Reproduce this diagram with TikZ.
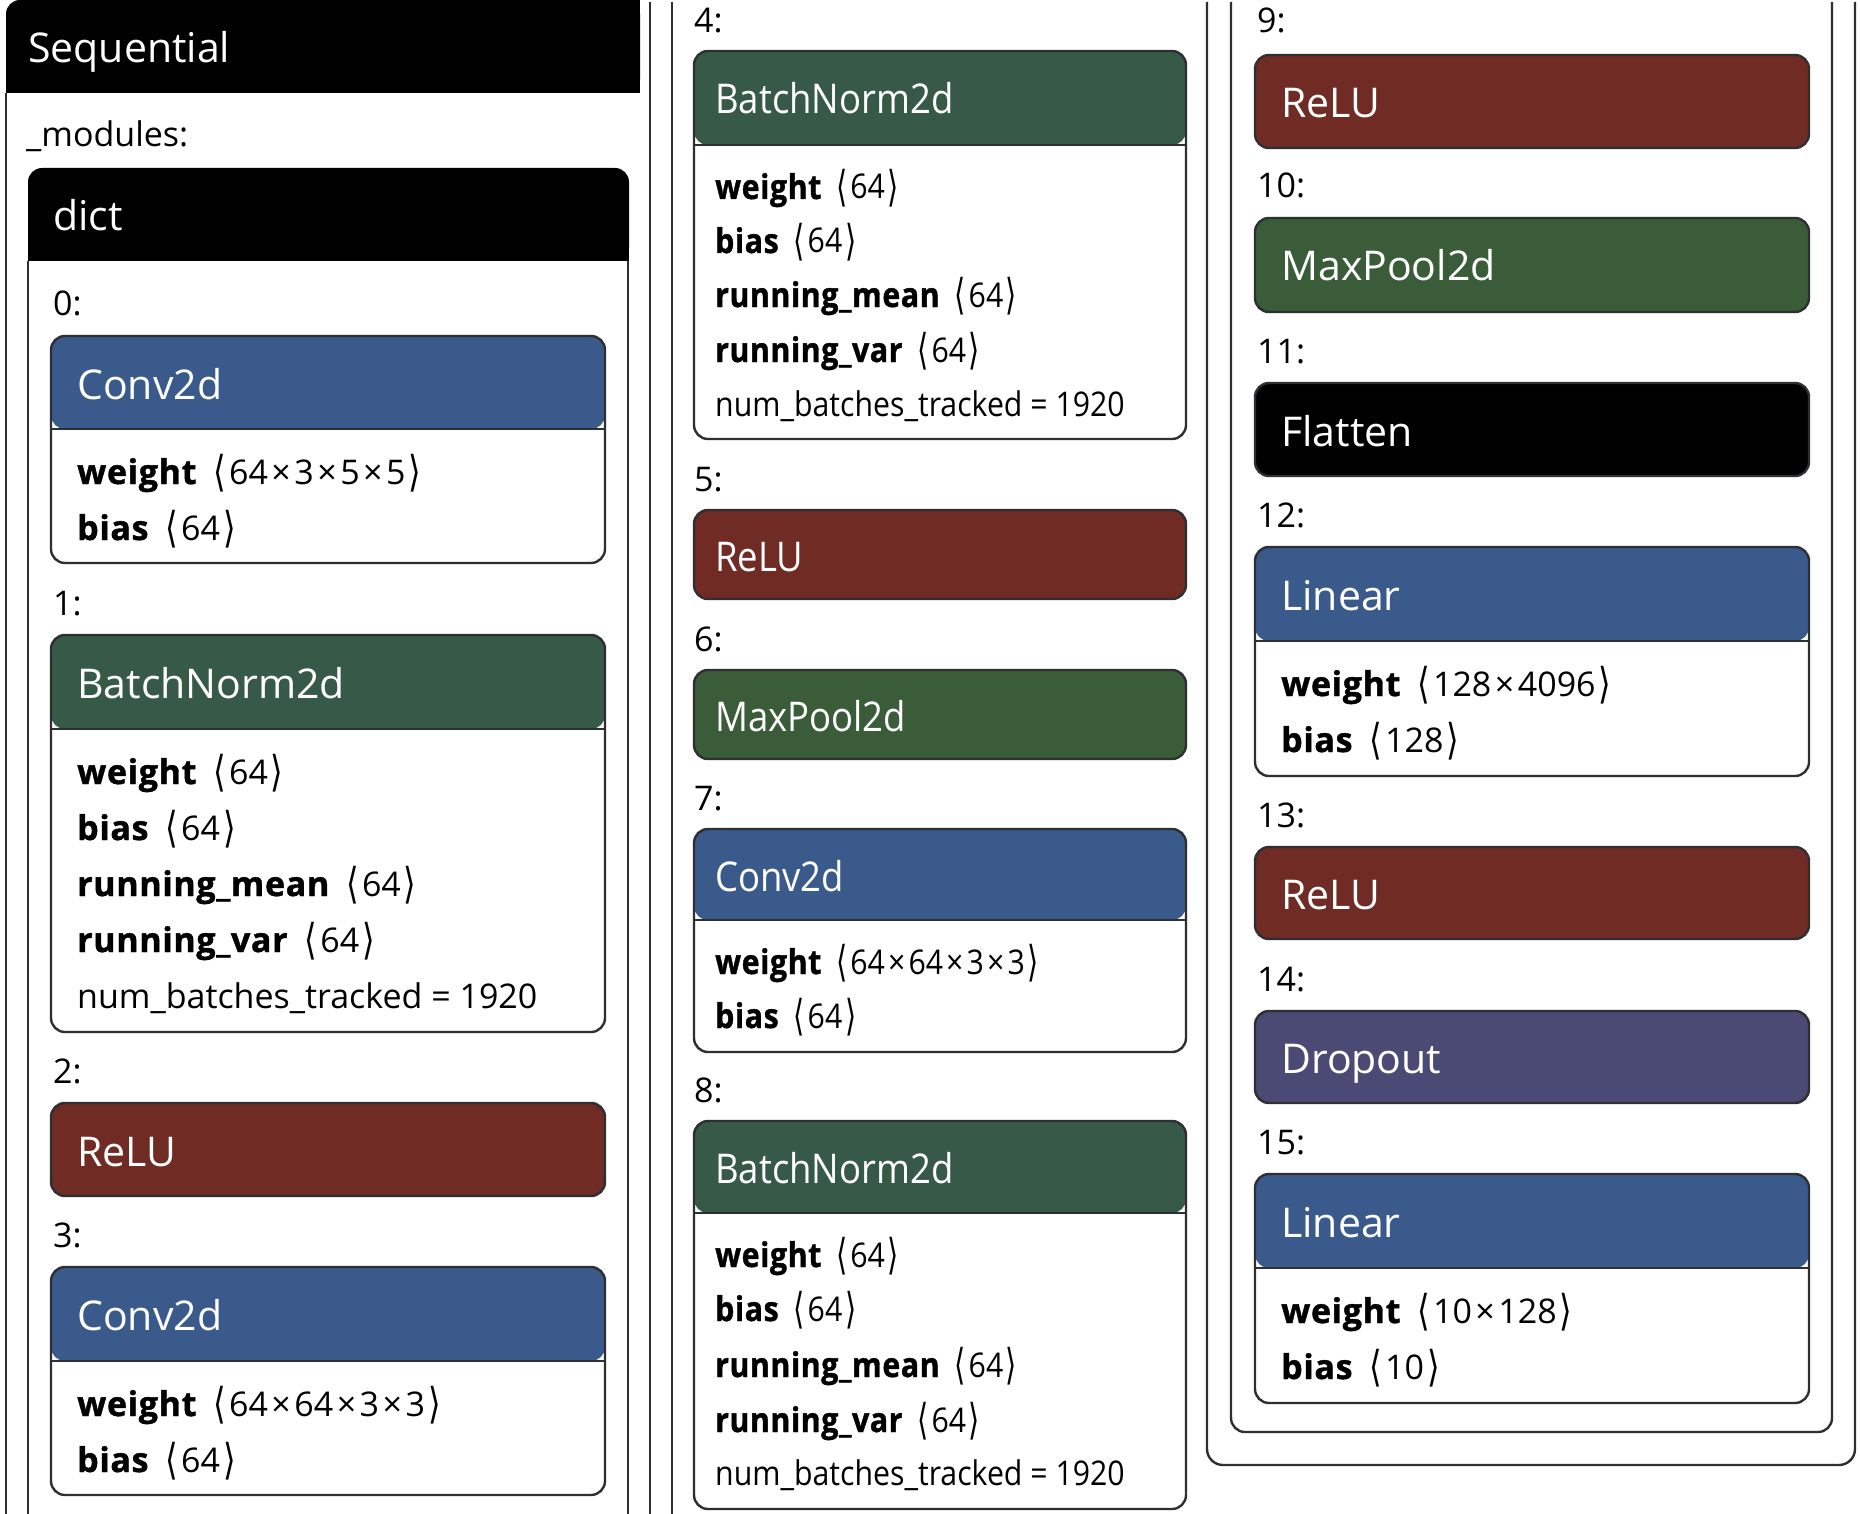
\documentclass[tikz,border=0pt]{standalone}
\usepackage{fontspec}
\setmainfont{Open Sans}
\newfontfamily\djv{DejaVu Sans}
\newfontfamily\heavy{Open Sans}[FakeBold=1.2, LetterSpace=2]
\definecolor{frm}{HTML}{2E2E33}
\definecolor{cblue}{HTML}{3A5A8C}
\definecolor{cbn}{HTML}{375A48}
\definecolor{cmp}{HTML}{3A5C39}
\definecolor{crelu}{HTML}{702B25}
\definecolor{cdrop}{HTML}{4A4A75}
\newcommand{\angL}{\raisebox{-0.06em}{\scalebox{0.95}[1.25]{\djv ⟨}}\hspace{3pt}}
\newcommand{\angR}{\hspace{3pt}\raisebox{-0.06em}{\scalebox{0.95}[1.25]{\djv ⟩}}}
\newcommand{\tms}{\hspace{3.5pt}×\hspace{3.5pt}}
\newcommand{\kw}[1]{{\heavy\bfseries #1}\hspace{17pt}}
\newcommand{\sqz}[1]{\scalebox{0.89}[1]{#1}}
\tikzset{
  fr/.style={draw=frm, line width=2.4pt},
  lay/.style={anchor=north west, inner sep=0pt, outer sep=0pt, rounded corners=14pt, draw=frm, line width=2.4pt},
  plainbox/.style={lay, fill=#1},
  hdrbox/.style n args={2}{lay, fill=white, path picture={
     \fill[#1] (path picture bounding box.north west) rectangle ([yshift=-#2pt]path picture bounding box.north east);
     \draw[frm, line width=2pt] ([yshift=-#2pt]path picture bounding box.north west) -- ([yshift=-#2pt]path picture bounding box.north east);}},
  ttl/.style={anchor=base west, inner sep=0pt, text=white, font=\fontsize{41}{41}\selectfont},
  bod/.style={anchor=base west, inner sep=0pt, text=black, font=\fontsize{34}{34}\selectfont},
}
\begin{document}
\begin{tikzpicture}[x=1pt, y=-1pt]
\useasboundingbox[fill=white] (0,0) rectangle (1860,1514);

% ---------- column 1 frames ----------
\fill[black, rounded corners=14pt] (6,0) rectangle (640,93);
\fill[black] (6,40) rectangle (640,93);
\fill[black] (300,0) rectangle (640,93);
\node[ttl] (seqt) at (28,63) {Sequential};
\draw[fr] (6,93) -- (6,1514);
\node[bod] (mods) at (26,147) {\_modules:};
\fill[black, rounded corners=14pt] (28,168) rectangle (629,261);
\fill[black] (28,210) rectangle (629,261);
\node[ttl] (dictt) at (53,231) {dict};
\draw[fr] (28,261) -- (28,1514);
\draw[fr] (628,261) -- (628,1514);
\draw[fr] (650,2) -- (650,1514);
% ---------- column 2 frame ----------
\draw[fr] (672,2) -- (672,1514);
% ---------- column 3 frames ----------
\draw[fr, rounded corners=16pt] (1207,2) -- (1207,1465) -- (1855,1465) -- (1855,2);
\draw[fr, rounded corners=14pt] (1231,2) -- (1231,1432) -- (1832,1432) -- (1832,2);

% ---------- column 1 layers ----------
\node[bod] (k0) at (53,315) {0:};
\node[hdrbox={cblue}{93}, minimum width=554pt, minimum height=227pt] (c0) at (51,336) {};
\node[ttl] (c0t) at (77,399) {Conv2d};
\node[bod] (c0w) at (77,484) {\kw{weight}\angL 64\tms 3\tms 5\tms 5\angR};
\node[bod] (c0b) at (77,540) {\kw{bias}\angL 64\angR};

\node[bod] (k1) at (53,615) {1:};
\node[hdrbox={cbn}{94}, minimum width=554pt, minimum height=397pt] (b1) at (51,635) {};
\node[ttl] (b1t) at (77,698) {BatchNorm2d};
\node[bod] (b1w) at (77,784) {\kw{weight}\angL 64\angR};
\node[bod] (b1b) at (77,840) {\kw{bias}\angL 64\angR};
\node[bod] (b1m) at (77,896) {\kw{running\_mean}\angL 64\angR};
\node[bod] (b1v) at (77,952) {\kw{running\_var}\angL 64\angR};
\node[bod] (b1n) at (77,1008) {num\_batches\_tracked = 1920};

\node[bod] (k2) at (53,1083) {2:};
\node[plainbox=crelu, minimum width=554pt, minimum height=93pt] (r2) at (51,1103) {};
\node[ttl] (r2t) at (77,1166) {ReLU};

\node[bod] (k3) at (53,1247) {3:};
\node[hdrbox={cblue}{94}, minimum width=554pt, minimum height=228pt] (c3) at (51,1267) {};
\node[ttl] (c3t) at (77,1330) {Conv2d};
\node[bod] (c3w) at (77,1416) {\kw{weight}\angL 64\tms 64\tms 3\tms 3\angR};
\node[bod] (c3b) at (77,1472) {\kw{bias}\angL 64\angR};

% ---------- column 2 layers ----------
\node[bod] (k4) at (694,33) {4:};
\node[hdrbox={cbn}{94}, minimum width=492pt, minimum height=388pt] (b4) at (694,51) {};
\node[ttl] (b4t) at (715,114) {\sqz{BatchNorm2d}};
\node[bod] (b4w) at (715,199) {\sqz{\kw{weight}\angL 64\angR}};
\node[bod] (b4b) at (715,253) {\sqz{\kw{bias}\angL 64\angR}};
\node[bod] (b4m) at (715,307) {\sqz{\kw{running\_mean}\angL 64\angR}};
\node[bod] (b4v) at (715,362) {\sqz{\kw{running\_var}\angL 64\angR}};
\node[bod] (b4n) at (715,416) {\sqz{num\_batches\_tracked = 1920}};

\node[bod] (k5) at (694,491) {5:};
\node[plainbox=crelu, minimum width=492pt, minimum height=89pt] (r5) at (694,510) {};
\node[ttl] (r5t) at (715,571) {\sqz{ReLU}};

\node[bod] (k6) at (694,651) {6:};
\node[plainbox=cmp, minimum width=492pt, minimum height=89pt] (m6) at (694,670) {};
\node[ttl] (m6t) at (715,731) {\sqz{MaxPool2d}};

\node[bod] (k7) at (694,810) {7:};
\node[hdrbox={cblue}{91}, minimum width=492pt, minimum height=223pt] (c7) at (694,829) {};
\node[ttl] (c7t) at (715,891) {\sqz{Conv2d}};
\node[bod] (c7w) at (715,974) {\sqz{\kw{weight}\angL 64\tms 64\tms 3\tms 3\angR}};
\node[bod] (c7b) at (715,1028) {\sqz{\kw{bias}\angL 64\angR}};

\node[bod] (k8) at (694,1102) {8:};
\node[hdrbox={cbn}{92}, minimum width=492pt, minimum height=388pt] (b8) at (694,1121) {};
\node[ttl] (b8t) at (715,1183) {\sqz{BatchNorm2d}};
\node[bod] (b8w) at (715,1267) {\sqz{\kw{weight}\angL 64\angR}};
\node[bod] (b8b) at (715,1321) {\sqz{\kw{bias}\angL 64\angR}};
\node[bod] (b8m) at (715,1377) {\sqz{\kw{running\_mean}\angL 64\angR}};
\node[bod] (b8v) at (715,1432) {\sqz{\kw{running\_var}\angL 64\angR}};
\node[bod] (b8n) at (715,1485) {\sqz{num\_batches\_tracked = 1920}};

% ---------- column 3 layers ----------
\node[bod] (k9) at (1257,33) {9:};
\node[plainbox=crelu, minimum width=554pt, minimum height=93pt] (r9) at (1255,55) {};
\node[ttl] (r9t) at (1281,118) {ReLU};

\node[bod] (k10) at (1257,198) {10:};
\node[plainbox=cmp, minimum width=554pt, minimum height=94pt] (m10) at (1255,218) {};
\node[ttl] (m10t) at (1281,281) {MaxPool2d};

\node[bod] (k11) at (1257,363) {11:};
\node[plainbox=black, minimum width=554pt, minimum height=93pt] (f11) at (1255,383) {};
\node[ttl] (f11t) at (1281,446) {Flatten};

\node[bod] (k12) at (1257,527) {12:};
\node[hdrbox={cblue}{94}, minimum width=554pt, minimum height=229pt] (l12) at (1255,547) {};
\node[ttl] (l12t) at (1281,610) {Linear};
\node[bod] (l12w) at (1281,696) {\kw{weight}\angL 128\tms 4096\angR};
\node[bod] (l12b) at (1281,752) {\kw{bias}\angL 128\angR};

\node[bod] (k13) at (1257,827) {13:};
\node[plainbox=crelu, minimum width=554pt, minimum height=92pt] (r13) at (1255,847) {};
\node[ttl] (r13t) at (1281,909) {ReLU};

\node[bod] (k14) at (1257,991) {14:};
\node[plainbox=cdrop, minimum width=554pt, minimum height=92pt] (d14) at (1255,1011) {};
\node[ttl] (d14t) at (1281,1073) {Dropout};

\node[bod] (k15) at (1257,1154) {15:};
\node[hdrbox={cblue}{94}, minimum width=554pt, minimum height=229pt] (l15) at (1255,1174) {};
\node[ttl] (l15t) at (1281,1237) {Linear};
\node[bod] (l15w) at (1281,1323) {\kw{weight}\angL 10\tms 128\angR};
\node[bod] (l15b) at (1281,1379) {\kw{bias}\angL 10\angR};
\end{tikzpicture}
\end{document}
